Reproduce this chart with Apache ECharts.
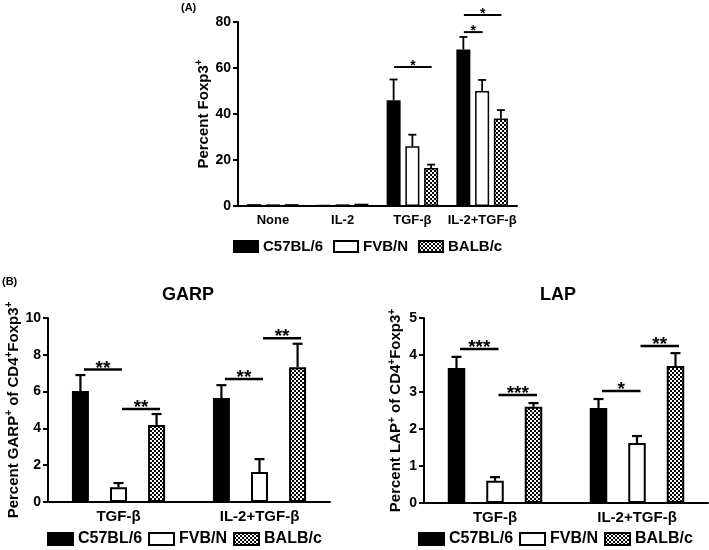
<!DOCTYPE html>
<html><head><meta charset="utf-8">
<script src="https://cdn.jsdelivr.net/npm/echarts@6/dist/echarts.min.js"></script>
<style>html,body{margin:0;padding:0;background:#fff}#c{width:709px;height:550px}</style>
</head><body><div id="c"></div>
<script>
// ---------- data ----------
const strains = ['C57BL/6', 'FVB/N', 'BALB/c'];
const catsA = ['None', 'IL-2', 'TGF-β', 'IL-2+TGF-β'];
const catsB = ['TGF-β', 'IL-2+TGF-β'];
const yTicksA = [0, 20, 40, 60, 80];
const yTicksGARP = [0, 2, 4, 6, 8, 10];
const yTicksLAP = [0, 1, 2, 3, 4, 5];

// Panel A: percent Foxp3+
const foxC57 = [0.8, 0.5, 46, 68];
const foxFVB = [0.7, 0.7, 26, 50];
const foxBALB = [0.8, 1.0, 16.5, 38];
const foxSemC57 = [0, 0, 9, 5.5];
const foxSemFVB = [0, 0, 5, 4.8];
const foxSemBALB = [0, 0, 1.5, 3.7];
// significance: [category, fromStrain, toStrain, height]
const sigA = [[2, 0, 2, 60.4], [3, 0, 1, 75.6], [3, 0, 2, 83]];
const sigALabels = ['*', '*', '*'];

// Panel B: GARP
const garpC57 = [6.03, 5.65];
const garpFVB = [0.8, 1.63];
const garpBALB = [4.18, 7.33];
const garpSemC57 = [0.87, 0.7];
const garpSemFVB = [0.23, 0.7];
const garpSemBALB = [0.6, 1.27];
const sigGARP = [[0, 0, 1, 7.2], [0, 1, 2, 5.05], [1, 0, 1, 6.68], [1, 1, 2, 8.9]];
const sigGARPLabels = ['**', '**', '**', '**'];

// Panel B: LAP
const lapC57 = [3.65, 2.57];
const lapFVB = [0.6, 1.62];
const lapBALB = [2.6, 3.7];
const lapSemC57 = [0.3, 0.24];
const lapSemFVB = [0.1, 0.19];
const lapSemBALB = [0.1, 0.35];
const sigLAP = [[0, 0, 1, 4.16], [0, 1, 2, 2.92], [1, 0, 1, 3.03], [1, 1, 2, 4.24]];
const sigLAPLabels = ['***', '***', '*', '**'];

// ---------- styles ----------
const FF = '"Liberation Sans", Arial, sans-serif';
const pc = document.createElement('canvas');
pc.width = 4; pc.height = 4;
const pctx = pc.getContext('2d');
pctx.fillStyle = '#fff'; pctx.fillRect(0, 0, 4, 4);
pctx.fillStyle = '#000'; pctx.fillRect(0, 0, 2, 2); pctx.fillRect(2, 2, 2, 2);
const checker = { image: pc, repeat: 'repeat' };
const fills = ['#000', '#fff', checker];

const panels = [
  { cats: catsA, ticks: yTicksA, means: [foxC57, foxFVB, foxBALB], sems: [foxSemC57, foxSemFVB, foxSemBALB],
    sig: sigA, sigLabels: sigALabels, grid: { left: 238, top: 22, width: 279, height: 184 },
    barWidth: 14, gap: 0.34, bw: 1.5, cap: 8, lw: 1.8, shift: 0.5, starSize: 14, sigLw: 2,
    yName: '{n|Percent Foxp3}{s|+}', nameGap: 24, tickSize: 14, xSize: 13, xMargin: 8,
    legend: { left: 233, top: 239, size: 15, iw: 24, ih: 11, gap: 10 } },
  { cats: catsB, ticks: yTicksGARP, means: [garpC57, garpFVB, garpBALB], sems: [garpSemC57, garpSemFVB, garpSemBALB],
    sig: sigGARP, sigLabels: sigGARPLabels, grid: { left: 48, top: 318, width: 282, height: 184 },
    barWidth: 17, gap: 1.24, bw: 2, cap: 10, lw: 2.2, shift: 3.5, starSize: 19, sigLw: 2.5,
    yName: '{n|Percent GARP}{s|+}{n| of CD4}{s|+}{n|Foxp3}{s|+}', nameGap: 25, tickSize: 14, xSize: 15, xMargin: 7,
    legend: { left: 47, top: 531, size: 16, iw: 25, ih: 12, gap: 6 }, title: 'GARP', titleX: 188 },
  { cats: catsB, ticks: yTicksLAP, means: [lapC57, lapFVB, lapBALB], sems: [lapSemC57, lapSemFVB, lapSemBALB],
    sig: sigLAP, sigLabels: sigLAPLabels, grid: { left: 424, top: 318, width: 284, height: 185 },
    barWidth: 17.5, gap: 1.2, bw: 2, cap: 10, lw: 2.2, shift: 3.5, starSize: 19, sigLw: 2.5,
    yName: '{n|Percent LAP}{s|+}{n| of CD4}{s|+}{n|Foxp3}{s|+}', nameGap: 19, tickSize: 14, xSize: 15, xMargin: 7,
    legend: { left: 418, top: 531, size: 16, iw: 25, ih: 12, gap: 6 }, title: 'LAP', titleX: 558 }
];

const option = { animation: false, backgroundColor: '#fff', grid: [], xAxis: [], yAxis: [], series: [], legend: [], title: [],
  graphic: [
    { type: 'text', left: 181, top: 2, style: { text: '(A)', font: 'bold 11px ' + FF, fill: '#000' } },
    { type: 'text', left: 2, top: 276, style: { text: '(B)', font: 'bold 11px ' + FF, fill: '#000' } }
  ] };

panels.forEach((p, gi) => {
  option.grid.push(Object.assign({ containLabel: false }, p.grid));
  const spacing = p.barWidth * (1 + p.gap);
  option.xAxis.push({
    type: 'category', gridIndex: gi, data: p.cats,
    axisLine: { lineStyle: { color: '#000', width: 2 } },
    axisTick: { alignWithLabel: true, length: 5, lineStyle: { color: '#000', width: 2 } },
    axisLabel: { color: '#000', fontWeight: 'bold', fontFamily: FF, fontSize: p.xSize, margin: p.xMargin, interval: 0 }
  });
  const tk = p.ticks;
  option.yAxis.push({
    type: 'value', gridIndex: gi, min: tk[0], max: tk[tk.length - 1], interval: tk[1] - tk[0],
    splitLine: { show: false },
    axisLine: { show: true, lineStyle: { color: '#000', width: 2 } },
    axisTick: { show: true, length: 5, lineStyle: { color: '#000', width: 2 } },
    axisLabel: { color: '#000', fontWeight: 'bold', fontFamily: FF, fontSize: p.tickSize, margin: 7 },
    name: p.yName,
    nameLocation: 'middle', nameRotate: 90, nameGap: p.nameGap,
    nameTextStyle: { rich: {
      n: { fontSize: 15, fontWeight: 'bold', fontFamily: FF, color: '#000', lineHeight: 18 },
      s: { fontSize: 10, fontWeight: 'bold', fontFamily: FF, color: '#000', verticalAlign: 'top', lineHeight: 18, padding: [0, 0, 7, 0] }
    } }
  });
  strains.forEach((s, si) => {
    option.series.push({
      type: 'bar', name: s, xAxisIndex: gi, yAxisIndex: gi, data: p.means[si],
      barWidth: p.barWidth, barGap: (p.gap * 100) + '%',
      itemStyle: { color: fills[si], borderColor: '#000', borderWidth: p.bw }, z: 2
    });
  });
  // error bars
  const errData = [];
  strains.forEach((s, si) => {
    p.means[si].forEach((m, ci) => { if (p.sems[si][ci] > 0) errData.push([ci, m, p.sems[si][ci], si]); });
  });
  option.series.push({
    type: 'custom', xAxisIndex: gi, yAxisIndex: gi, data: errData, encode: { x: 0, y: 1 }, z: 3, silent: true,
    renderItem: (params, api) => {
      const ci = api.value(0), m = api.value(1), e = api.value(2), si = api.value(3);
      const a = api.coord([ci, m]), b = api.coord([ci, m + e]);
      const x = a[0] + (si - 1) * spacing;
      const st = { stroke: '#000', lineWidth: p.lw, fill: null };
      return { type: 'group', children: [
        { type: 'line', shape: { x1: x, y1: a[1], x2: x, y2: b[1] }, style: st },
        { type: 'line', shape: { x1: x - p.cap / 2, y1: b[1], x2: x + p.cap / 2, y2: b[1] }, style: st }
      ] };
    }
  });
  // significance lines
  option.series.push({
    type: 'custom', xAxisIndex: gi, yAxisIndex: gi, clip: false, z: 3, silent: true,
    data: p.sig.map(d => [d[0], d[3], d[1], d[2]]), encode: { x: 0, y: 1 },
    renderItem: (params, api) => {
      const ci = api.value(0), h = api.value(1), f = api.value(2), t = api.value(3);
      const c = api.coord([ci, h]);
      const x1 = c[0] + (f - 1) * spacing + p.shift, x2 = c[0] + (t - 1) * spacing + p.shift;
      return { type: 'group', children: [
        { type: 'line', shape: { x1: x1, y1: c[1], x2: x2, y2: c[1] }, style: { stroke: '#000', lineWidth: p.sigLw } },
        { type: 'text', x: (x1 + x2) / 2, y: c[1] - 1, style: { text: p.sigLabels[params.dataIndex], font: 'bold ' + p.starSize + 'px ' + FF, fill: '#000', align: 'center', verticalAlign: 'middle' } }
      ] };
    }
  });
  option.legend.push({
    data: strains, left: p.legend.left, top: p.legend.top, orient: 'horizontal', icon: 'rect', padding: 0,
    itemWidth: p.legend.iw, itemHeight: p.legend.ih, itemGap: p.legend.gap, selectedMode: false,
    textStyle: { color: '#000', fontWeight: 'bold', fontFamily: FF, fontSize: p.legend.size }
  });
  if (p.title) {
    option.title.push({ text: p.title, left: p.titleX, top: 286, textAlign: 'center', padding: 0,
      textStyle: { color: '#000', fontWeight: 'bold', fontFamily: FF, fontSize: 18 } });
  }
});

const chart = echarts.init(document.getElementById('c'), null, { renderer: 'canvas' });
chart.setOption(option);
</script></body></html>
